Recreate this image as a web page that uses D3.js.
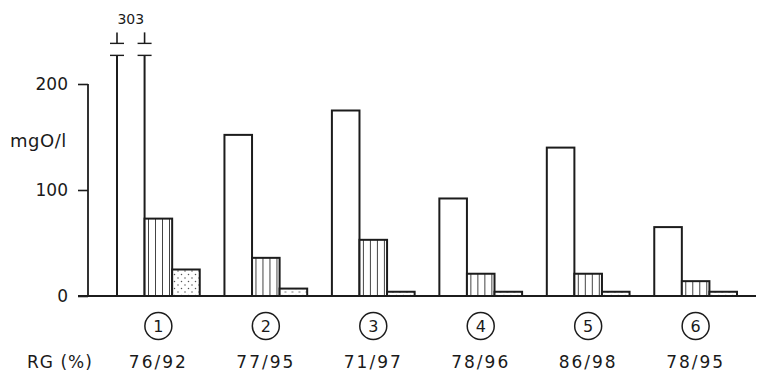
<!DOCTYPE html>
<html><head><meta charset="utf-8">
<script src="https://cdn.jsdelivr.net/npm/d3@7"></script>
<style>
html,body{margin:0;padding:0;background:#fff;}
svg{display:block;}
text{font-family:"DejaVu Sans",sans-serif;fill:#1a1a1a;}
</style></head>
<body>
<svg id="c" width="758" height="379"></svg>
<script>
const groups = ["1","2","3","4","5","6"];
const circledLabels = ["1","2","3","4","5","6"];
const rgLabels = ["76/92","77/95","71/97","78/96","86/98","78/95"];
const series = ["white","striped","dotted"];
const whiteValues = [303, 152, 175, 92, 140, 65];
const stripedValues = [73, 36, 53, 21, 21, 14];
const dottedValues = [25, 7, 4, 4, 4, 4];
const yTicks = [0, 100, 200];
const yTitle = "mgO/l";
const xTitle = "RG (%)";
const axisBreakValue = 227;

const svg = d3.select("#c");
const ink = "#1c1c1c";
const defs = svg.append("defs");
const ps = defs.append("pattern").attr("id","stripes").attr("patternUnits","userSpaceOnUse")
  .attr("width",7).attr("height",10);
ps.append("rect").attr("width",7).attr("height",10).attr("fill","#fff");
ps.append("line").attr("x1",3.5).attr("x2",3.5).attr("y1",0).attr("y2",10).attr("stroke","#444").attr("stroke-width",1);
const pd = defs.append("pattern").attr("id","dots").attr("patternUnits","userSpaceOnUse")
  .attr("width",7).attr("height",7);
pd.append("rect").attr("width",7).attr("height",7).attr("fill","#fff");
pd.append("circle").attr("cx",1.5).attr("cy",1.5).attr("r",0.75).attr("fill","#555");
pd.append("circle").attr("cx",5).attr("cy",5).attr("r",0.75).attr("fill","#555");

const y = d3.scaleLinear().domain([0,200]).range([296,84]);
const x0 = d3.scaleBand().domain(groups).range([117,737]).paddingInner(0.23);
const x1 = d3.scaleBand().domain(series).range([0,x0.bandwidth()]);

const data = groups.map((g,i)=>({g, vals:[whiteValues[i],stripedValues[i],dottedValues[i]]}));
const fills = {white:"#fff", striped:"url(#stripes)", dotted:"url(#dots)"};

// y axis
const yAxis = d3.axisLeft(y).tickValues(yTicks).tickSize(10).tickPadding(10).tickFormat(d=>d);
const gy = svg.append("g").attr("transform","translate(88,0)").call(yAxis);
gy.select(".domain").remove();
gy.selectAll(".tick line").attr("stroke",ink).attr("stroke-width",1.6);
gy.selectAll(".tick text").attr("font-size",17).attr("fill",ink).style("font-family","DejaVu Sans");
svg.append("line").attr("x1",88).attr("x2",88).attr("y1",y(200)).attr("y2",y(0)).attr("stroke",ink).attr("stroke-width",1.8);
svg.append("text").attr("x",10).attr("y",147).attr("font-size",18).attr("letter-spacing",0.5).text(yTitle);

// bars
const gg = svg.selectAll("g.grp").data(data).join("g").attr("class","grp")
  .attr("transform",d=>`translate(${x0(d.g)},0)`);
gg.each(function(d){
  const sel = d3.select(this);
  series.forEach((s,k)=>{
    const v = d.vals[k];
    const bx = x1(s), bw = x1.bandwidth();
    if (v > axisBreakValue) {
      const yb = y(axisBreakValue);
      [bx, bx+bw].forEach(lx=>{
        sel.append("line").attr("x1",lx).attr("x2",lx).attr("y1",y(0)).attr("y2",yb).attr("stroke",ink).attr("stroke-width",2);
        sel.append("line").attr("x1",lx-7).attr("x2",lx+7).attr("y1",yb).attr("y2",yb).attr("stroke",ink).attr("stroke-width",1.4);
        sel.append("line").attr("x1",lx-7).attr("x2",lx+7).attr("y1",yb-12).attr("y2",yb-12).attr("stroke",ink).attr("stroke-width",1.4);
        sel.append("line").attr("x1",lx).attr("x2",lx).attr("y1",yb-12).attr("y2",yb-23).attr("stroke",ink).attr("stroke-width",1.6);
      });
      sel.append("text").attr("x",bx+bw/2).attr("y",yb-31).attr("text-anchor","middle").attr("font-size",14).text(v);
    } else {
      sel.append("rect").attr("x",bx).attr("y",y(v)).attr("width",bw).attr("height",y(0)-y(v))
        .attr("fill",fills[s]).attr("stroke",ink).attr("stroke-width",2);
    }
  });
});

// baseline
svg.append("line").attr("x1",78).attr("x2",756).attr("y1",y(0)).attr("y2",y(0)).attr("stroke",ink).attr("stroke-width",1.8);

// x labels
const xl = svg.selectAll("g.xl").data(groups).join("g").attr("class","xl")
  .attr("transform",g=>`translate(${x0(g)+x0.bandwidth()/2},0)`);
xl.append("circle").attr("cy",326).attr("r",13.5).attr("fill","none").attr("stroke",ink).attr("stroke-width",1.5);
xl.append("text").attr("y",332).attr("text-anchor","middle").attr("font-size",16).text((g,i)=>circledLabels[i]);
xl.append("text").attr("y",368).attr("text-anchor","middle").attr("font-size",17).attr("letter-spacing",2).text((g,i)=>rgLabels[i]);
svg.append("text").attr("x",27).attr("y",368).attr("font-size",17).attr("letter-spacing",1).text(xTitle);
</script>
</body></html>
